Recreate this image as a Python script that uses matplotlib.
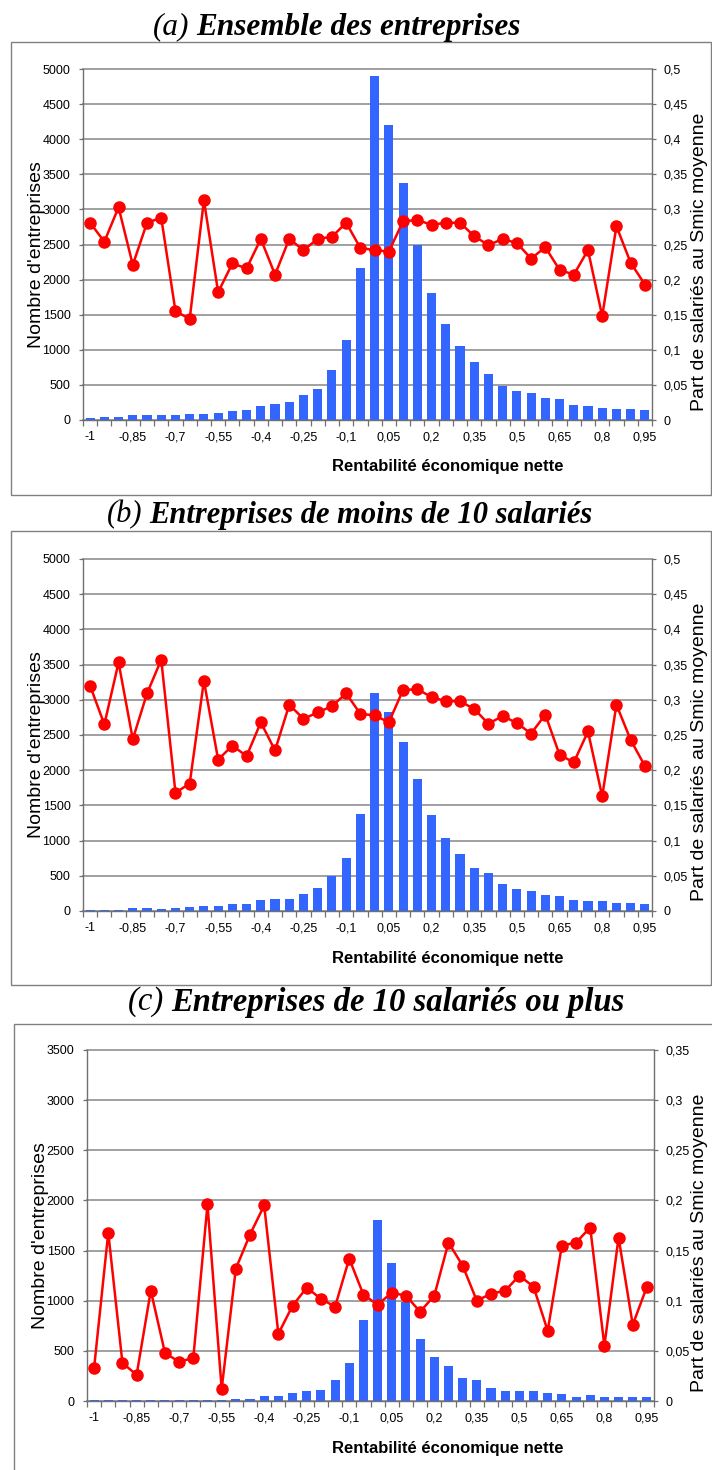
import matplotlib
matplotlib.use("Agg")
import matplotlib.pyplot as plt
from matplotlib.patches import Rectangle
from matplotlib.ticker import FuncFormatter, MultipleLocator
import numpy as np

plt.rcParams['font.family'] = ['Liberation Sans', 'DejaVu Sans']

categories = ["-1", "-0,95", "-0,9", "-0,85", "-0,8", "-0,75", "-0,7", "-0,65", "-0,6", "-0,55",
              "-0,5", "-0,45", "-0,4", "-0,35", "-0,3", "-0,25", "-0,2", "-0,15", "-0,1", "-0,05",
              "0", "0,05", "0,1", "0,15", "0,2", "0,25", "0,3", "0,35", "0,4", "0,45",
              "0,5", "0,55", "0,6", "0,65", "0,7", "0,75", "0,8", "0,85", "0,9", "0,95"]

bars_a = [25, 45, 45, 65, 65, 65, 70, 85, 90, 100,
          130, 137, 193, 222, 260, 354, 443, 712, 1137, 2170,
          4900, 4200, 3370, 2500, 1807, 1368, 1061, 825, 660, 486,
          410, 387, 311, 297, 212, 198, 175, 160, 160, 142]
line_a = [0.281, 0.254, 0.303, 0.221, 0.281, 0.288, 0.155, 0.144, 0.313, 0.182,
          0.223, 0.216, 0.258, 0.207, 0.258, 0.242, 0.258, 0.261, 0.281, 0.245,
          0.242, 0.240, 0.283, 0.285, 0.278, 0.281, 0.281, 0.262, 0.249, 0.258,
          0.252, 0.230, 0.246, 0.214, 0.207, 0.242, 0.148, 0.276, 0.224, 0.193]

bars_b = [15, 20, 15, 40, 40, 25, 45, 60, 70, 75,
          95, 105, 150, 170, 170, 245, 320, 500, 750, 1375,
          3100, 2825, 2405, 1880, 1360, 1030, 815, 615, 533, 386,
          314, 281, 233, 214, 157, 148, 138, 119, 119, 100]
line_b = [0.320, 0.265, 0.353, 0.244, 0.309, 0.357, 0.168, 0.181, 0.327, 0.215,
          0.235, 0.220, 0.268, 0.228, 0.293, 0.273, 0.282, 0.291, 0.309, 0.280,
          0.278, 0.268, 0.314, 0.315, 0.304, 0.298, 0.298, 0.287, 0.266, 0.277,
          0.267, 0.252, 0.279, 0.222, 0.211, 0.255, 0.163, 0.293, 0.243, 0.206]

bars_c = [5, 10, 10, 10, 10, 13, 10, 13, 13, 13,
          23, 23, 53, 53, 83, 103, 110, 213, 383, 807,
          1809, 1373, 990, 617, 440, 347, 233, 213, 130, 100,
          100, 100, 77, 70, 43, 60, 40, 37, 37, 37]
line_c = [0.033, 0.168, 0.038, 0.026, 0.110, 0.048, 0.039, 0.043, 0.196, 0.012,
          0.132, 0.166, 0.195, 0.067, 0.095, 0.113, 0.102, 0.094, 0.142, 0.106,
          0.096, 0.108, 0.105, 0.089, 0.105, 0.158, 0.135, 0.100, 0.107, 0.110,
          0.125, 0.114, 0.070, 0.155, 0.158, 0.173, 0.055, 0.163, 0.076, 0.114]

titles_tag = ["(a)", "(b)", "(c)"]
titles_text = ["Ensemble des entreprises", "Entreprises de moins de 10 salariés",
               "Entreprises de 10 salariés ou plus"]
left_max = [5000, 5000, 3500]
right_max = [0.5, 0.5, 0.35]
xlabel = "Rentabilité économique nette"
ylabel_left = "Nombre d'entreprises"
ylabel_right = "Part de salariés au Smic moyenne"

W, H = 712, 1470
fig = plt.figure(figsize=(W / 100, H / 100), dpi=100)
renderer = fig.canvas.get_renderer()

def fx(px):
    return px / W

def fy(py):
    return 1 - py / H

# layout in pixels: (left, right, top, bottom) of plot area
layouts = [(83, 652, 69, 420), (83, 652, 559, 911), (87, 654, 1050, 1401)]
frames = [(11, 42, 711, 495), (11, 531, 711, 985), (14, 1024, 713, 1480)]
title_y = [27, 515, 1002]
title_x0 = [153, 107, 128]
title_size = [22.5, 22, 23.5]

BLUE = "#3366FF"
RED = "#FF0000"
GRID = "#A0A0A0"
SPINE = "#707070"

def comma_fmt(v, pos=None):
    if abs(v) < 1e-12:
        return "0"
    return ("%g" % round(v, 4)).replace(".", ",")

data = [(bars_a, line_a), (bars_b, line_b), (bars_c, line_c)]
x = np.arange(len(categories))

for i, (bars, line) in enumerate(data):
    l, r, t, b = layouts[i]
    ax = fig.add_axes([fx(l), fy(b), fx(r - l), (b - t) / H])
    ax.bar(x, bars, width=0.64, color=BLUE, zorder=2)
    ax.set_xlim(-0.5, len(categories) - 0.5)
    ax.set_ylim(0, left_max[i])
    ax.yaxis.set_major_locator(MultipleLocator(500))
    ax.yaxis.grid(True, color=GRID, lw=1.4, zorder=0)
    for gl in ax.get_ygridlines():
        gl.set_clip_on(False)
    ax.set_axisbelow(True)
    ax.set_xticks(x[::3])
    ax.set_xticklabels(categories[::3])
    ax.set_xticks(np.arange(-0.5, len(categories), 1.0), minor=True)
    ax.tick_params(axis='x', which='major', length=0, pad=8, labelsize=9)
    ax.tick_params(axis='x', which='minor', length=4, width=0.9, color=SPINE, direction='out')
    ax.tick_params(axis='y', which='major', length=3, width=0.9, color=SPINE, pad=6, labelsize=9)
    for s in ['top', 'right']:
        ax.spines[s].set_visible(False)
    for s in ['left', 'bottom']:
        ax.spines[s].set_color(SPINE)
        ax.spines[s].set_linewidth(1.0)

    ax2 = ax.twinx()
    ax2.plot(x, line, color=RED, lw=1.8, marker='o', markersize=8, clip_on=False, zorder=3)
    ax2.set_ylim(0, right_max[i])
    ax2.yaxis.set_major_locator(MultipleLocator(0.05))
    ax2.yaxis.set_major_formatter(FuncFormatter(comma_fmt))
    ax2.tick_params(axis='y', length=3, width=0.9, color=SPINE, pad=5, labelsize=9)
    for s in ['top', 'left', 'bottom']:
        ax2.spines[s].set_visible(False)
    ax2.spines['right'].set_color(SPINE)
    ax2.spines['right'].set_linewidth(1.0)

    # axis titles
    fig.text(fx(448), fy(b + 47), xlabel, ha='center', va='center',
             fontsize=12, fontweight='bold')
    cy = (t + b) / 2
    fig.text(fx(37 if i < 2 else 41), fy(cy + 10), ylabel_left, rotation=90,
             ha='center', va='center', fontsize=14)
    fig.text(fx(699), fy(cy + 17), ylabel_right, rotation=90,
             ha='center', va='center', fontsize=14)

    # frame
    x0, y0, x1, y1 = frames[i]
    fig.patches.append(Rectangle((fx(x0), fy(y1)), fx(x1 - x0), (y1 - y0) / H,
                                 transform=fig.transFigure, fill=False,
                                 edgecolor="#808080", lw=1.0))

    # panel title: regular italic tag followed by bold italic text
    tag = fig.text(fx(title_x0[i]), fy(title_y[i]), titles_tag[i], ha='left', va='center',
                   fontsize=title_size[i], fontstyle='italic', family='Liberation Serif')
    tw = tag.get_window_extent(renderer=renderer).width
    fig.text(fx(title_x0[i] + tw + 7), fy(title_y[i]), titles_text[i], ha='left', va='center',
             fontsize=title_size[i], fontstyle='italic', fontweight='bold',
             family='Liberation Serif')

fig.savefig("out.png", dpi=100)
